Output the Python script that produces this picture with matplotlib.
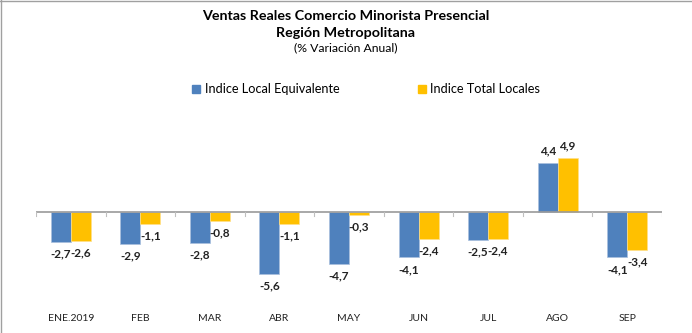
import numpy as np
import matplotlib.pyplot as plt
from matplotlib.lines import Line2D

# Monthly year-on-year change (%), Región Metropolitana
meses = ["ENE.2019", "FEB", "MAR", "ABR", "MAY", "JUN", "JUL", "AGO", "SEP"]
indice_local_equiv = [-2.7, -2.9, -2.8, -5.6, -4.7, -4.1, -2.5, 4.4, -4.1]
indice_total_locales = [-2.6, -1.1, -0.8, -1.1, -0.3, -2.4, -2.4, 4.9, -3.4]

AZUL = "#4F81BD"
AMARILLO = "#FFC000"

plt.rcParams["font.family"] = ["Lato", "DejaVu Sans"]

W, H = 692, 333
fig = plt.figure(figsize=(W / 100, H / 100), dpi=100)

# plot area in pixel terms; zero line sits at y=212, ~11.07 px per unit
left_px, right_px, top_px, bottom_px = 36, 662, 120, 308
px_unit = 11.07
zero_px = 212
ax = fig.add_axes([left_px / W, 1 - bottom_px / H,
                   (right_px - left_px) / W, (bottom_px - top_px) / H])

x = np.arange(len(meses))
ancho = 0.287
b1 = ax.bar(x - ancho / 2, indice_local_equiv, ancho, color=AZUL,
            edgecolor="#a9c0de", linewidth=0.5)
b2 = ax.bar(x + ancho / 2, indice_total_locales, ancho, color=AMARILLO,
            edgecolor="#ffe08a", linewidth=0.5)

ax.set_xlim(-0.5, len(meses) - 0.5)
ax.set_ylim(-(bottom_px - zero_px) / px_unit, (zero_px - top_px) / px_unit)

# data labels
for barras, vals in ((b1, indice_local_equiv), (b2, indice_total_locales)):
    for rect, v in zip(barras, vals):
        cx = rect.get_x() + rect.get_width() / 2
        txt = f"{v:.1f}".replace(".", ",")
        off = 12 if v >= 0 else -12
        ax.annotate(txt, (cx, v), xytext=(0, off), textcoords="offset pixels",
                    ha="center", va="center", fontsize=8.5,
                    fontweight="bold", color="#222222")

# zero axis with boundary tick marks
ax.axhline(0, color="#9a9a9a", linewidth=1.2, zorder=3)
for b in np.arange(-0.5, len(meses), 1.0):
    ax.plot([b, b], [0, -0.36], color="#bfbfbf", linewidth=0.8, zorder=3)

ax.set_xticks(x)
ax.set_xticklabels(meses, fontsize=7.5, color="#222222")
ax.tick_params(axis="x", length=0, pad=4)
ax.set_yticks([])
for s in ax.spines.values():
    s.set_visible(False)

# titles
fig.text(0.5, 1 - 16 / H, "Ventas Reales Comercio Minorista Presencial",
         ha="center", va="center", fontsize=10.3, fontweight="bold")
fig.text(0.5, 1 - 33 / H, "Región Metropolitana",
         ha="center", va="center", fontsize=10.3, fontweight="bold")
fig.text(0.5, 1 - 47.5 / H, "(% Variación Anual)",
         ha="center", va="center", fontsize=8.8)

# legend
handles = [Line2D([], [], marker="s", linestyle="none", markersize=6,
                  markerfacecolor=AZUL, markeredgecolor=AZUL),
           Line2D([], [], marker="s", linestyle="none", markersize=6,
                  markerfacecolor=AMARILLO, markeredgecolor=AMARILLO)]
fig.legend(handles, ["Indice Local Equivalente", "Indice Total Locales"],
           loc="center", bbox_to_anchor=(366 / W, 1 - 89 / H), ncol=2,
           frameon=False, fontsize=9.2, handlelength=0.7, handletextpad=0.3,
           columnspacing=6.1)

# thin frame on the top and left edges
fig.add_artist(Line2D([0, 1], [1 - 0.5 / H, 1 - 0.5 / H], color="#a0a0a0",
                      linewidth=1, transform=fig.transFigure))
fig.add_artist(Line2D([0.5 / W, 0.5 / W], [0, 1], color="#a0a0a0",
                      linewidth=1, transform=fig.transFigure))

fig.savefig("out.png", dpi=100)
